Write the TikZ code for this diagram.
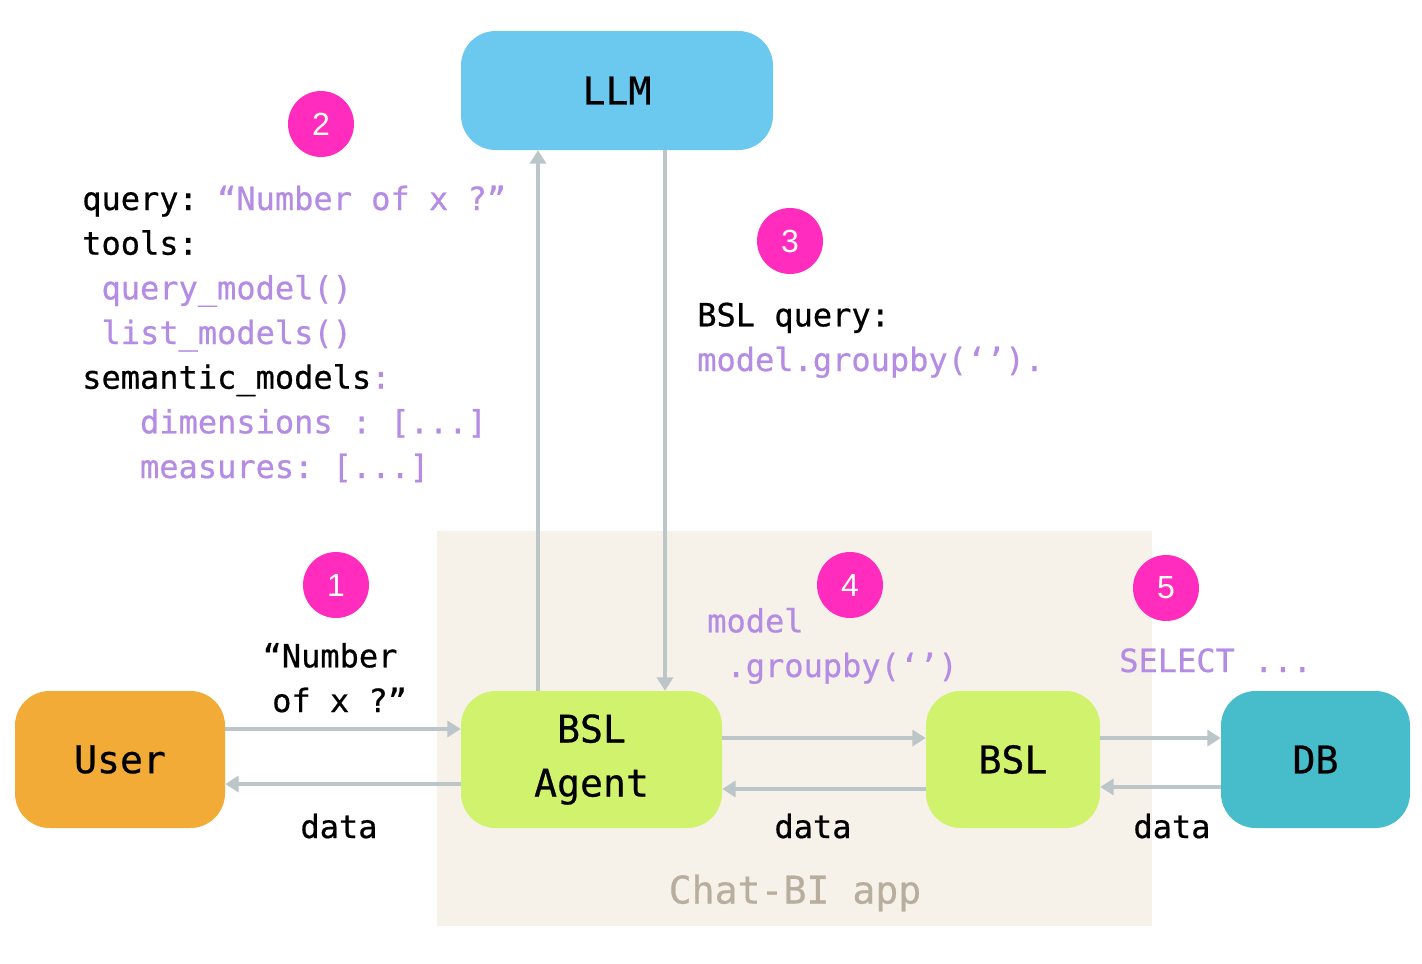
\documentclass[tikz,border=0pt]{standalone}
\usepackage{fontspec}
\setmonofont[FakeBold=0.6]{DejaVu Sans Mono}
\setsansfont{Liberation Sans}
\usetikzlibrary{arrows.meta}
\definecolor{llmblue}{HTML}{6BC9EF}
\definecolor{userorange}{HTML}{F2AB36}
\definecolor{bsllime}{HTML}{D0F26C}
\definecolor{dbteal}{HTML}{47BDCC}
\definecolor{appbg}{HTML}{F6F2EA}
\definecolor{applabel}{HTML}{B8AE9E}
\definecolor{stepink}{HTML}{FF2CBE}
\definecolor{lilac}{HTML}{B48CE4}
\definecolor{arrowgray}{HTML}{BCC5C7}
\begin{document}
\begin{tikzpicture}[x=0.75pt, y=-0.75pt,
  box/.style={rounded corners=26pt, minimum height=102.75pt, align=center,
    font=\ttfamily\fontsize{28.6}{40.5}\selectfont},
  stepnum/.style={circle, fill=stepink, text=white, minimum size=49.5pt, inner sep=0pt,
    font=\sffamily\fontsize{24}{24}\selectfont},
  flow/.style={-{Triangle[length=10pt,width=12pt]}, draw=arrowgray, line width=3pt},
  code/.style={inner sep=0pt, font=\ttfamily\fontsize{24}{33.5}\selectfont},
  ]
\useasboundingbox (0,0) rectangle (1422,964);
% chat-bi app area
\fill[appbg] (437,531) rectangle (1152,926);
\node (applbl) at (795,893) [text=applabel, font=\ttfamily\fontsize{28.6}{30}\selectfont] {Chat-BI app};
% boxes
\node (LLM) at (617,90.5) [box, fill=llmblue, minimum width=234pt, minimum height=89.25pt] {LLM};
\node (user) at (120,759.5) [box, fill=userorange, minimum width=157.5pt] {User};
\node (agent) at (591.5,759.5) [box, fill=bsllime, minimum width=195.75pt] {BSL\\Agent};
\node (bsl) at (1013,759.5) [box, fill=bsllime, minimum width=130.5pt] {BSL};
\node (DB) at (1315.5,759.5) [box, fill=dbteal, minimum width=141.75pt] {DB};
% step numbers
\node (s1) at (336,585) [stepnum] {1};
\node (s2) at (321,124) [stepnum] {2};
\node (s3) at (790,241) [stepnum] {3};
\node (s4) at (850,585) [stepnum] {4};
\node (s5) at (1166,588) [stepnum] {5};
% connectors
\coordinate (upx) at (538,0);
\coordinate (downx) at (665,0);
\draw[flow] (agent.north -| upx) -- (LLM.south -| upx);
\draw[flow] (LLM.south -| downx) -- (agent.north -| downx);
\draw[flow] ([yshift=22.9pt]user.east) -- ([yshift=22.9pt]agent.west);
\draw[flow] ([yshift=-18.4pt]agent.west) -- ([yshift=-18.4pt]user.east);
\draw[flow] ([yshift=16.1pt]agent.east) -- ([yshift=16.1pt]bsl.west);
\draw[flow] ([yshift=-22.1pt]bsl.west) -- ([yshift=-22.1pt]agent.east);
\draw[flow] ([yshift=16.1pt]bsl.east) -- ([yshift=16.1pt]DB.west);
\draw[flow] ([yshift=-20.6pt]DB.west) -- ([yshift=-20.6pt]bsl.east);
% texts (base = last line)
\node (ctx) at (82,478) [code, anchor=base west, align=left]
  {query: \textcolor{lilac}{“Number of x ?”}\\
   tools:\\
   \textcolor{lilac}{~query\_model()}\\
   \textcolor{lilac}{~list\_models()}\\
   semantic\_models\textcolor{lilac}{:}\\
   \textcolor{lilac}{~~~dimensions : [...]}\\
   \textcolor{lilac}{~~~measures: [...]}};
\node (bslq) at (697,371) [code, anchor=base west, align=left]
  {BSL query:\\ \textcolor{lilac}{model.groupby(‘’).}};
\node (ask) at (330,712) [code, anchor=base, align=center] {“Number\\~of x ?”};
\node (d1) at (339,838) [code, anchor=base] {data};
\node (d2) at (813,838) [code, anchor=base] {data};
\node (d3) at (1172,838) [code, anchor=base] {data};
\node (mq) at (707,677) [code, anchor=base west, align=left, text=lilac]
  {model\\~.groupby(‘’)};
\node (sql) at (1119,672) [code, anchor=base west, text=lilac] {SELECT ...};
\end{tikzpicture}
\end{document}
